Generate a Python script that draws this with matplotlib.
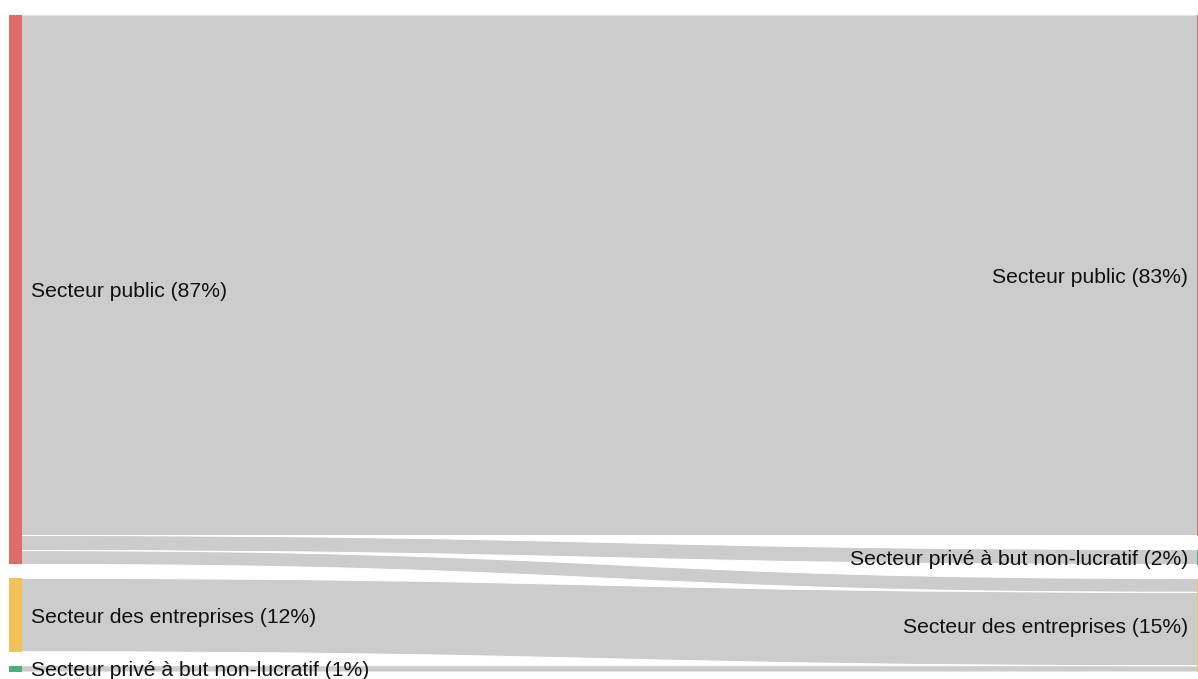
import matplotlib
matplotlib.use("Agg")
import matplotlib.pyplot as plt
from matplotlib.path import Path
from matplotlib.patches import PathPatch, Rectangle

plt.rcParams['font.family'] = ['Liberation Sans', 'DejaVu Sans']

# ---- data ----
left_nodes = ["Secteur public", "Secteur des entreprises", "Secteur privé à but non-lucratif"]
left_pct = ["87%", "12%", "1%"]
right_nodes = ["Secteur public", "Secteur privé à but non-lucratif", "Secteur des entreprises"]
right_pct = ["83%", "2%", "15%"]
node_colors = {"Secteur public": "#E06C68",
               "Secteur des entreprises": "#F4C157",
               "Secteur privé à but non-lucratif": "#4DAE7E"}
# flows: (source index in left, target index in right, value)
flow_src = [0, 0, 0, 1, 2]
flow_tgt = [0, 1, 2, 2, 2]
flow_val = [83.0, 2.4, 2.2, 11.7, 1.0]

# ---- layout (pixel space) ----
W, H = 1198, 679
top, bottom = 15, 672
pad = 14
node_w = 13
xl = 9
xr = 1197
label_dy = 2

fig = plt.figure(figsize=(W / 100, H / 100), dpi=100)
ax = fig.add_axes([0, 0, 1, 1])
ax.set_xlim(0, W)
ax.set_ylim(H, 0)
ax.axis('off')

left_tot = [sum(v for s, v in zip(flow_src, flow_val) if s == i) for i in range(len(left_nodes))]
right_tot = [sum(v for t, v in zip(flow_tgt, flow_val) if t == i) for i in range(len(right_nodes))]
k = (bottom - top - pad * (len(left_nodes) - 1)) / sum(left_tot)

def stack(tots):
    ys, y = [], top
    for t in tots:
        ys.append(y)
        y += t * k + pad
    return ys

ly = stack(left_tot)
ry = stack(right_tot)

# link offsets
lofs = list(ly)
rofs = list(ry)
order = sorted(range(len(flow_val)), key=lambda i: (flow_src[i], flow_tgt[i]))
src_pos = {}
for i in order:
    s = flow_src[i]
    src_pos[i] = lofs[s]
    lofs[s] += flow_val[i] * k
order_t = sorted(range(len(flow_val)), key=lambda i: (flow_tgt[i], flow_src[i]))
tgt_pos = {}
for i in order_t:
    t = flow_tgt[i]
    tgt_pos[i] = rofs[t]
    rofs[t] += flow_val[i] * k

x0 = xl + node_w
x1 = xr
xm = (x0 + x1) / 2
curve_codes = [Path.MOVETO, Path.CURVE4, Path.CURVE4, Path.CURVE4]
for i in range(len(flow_val)):
    h = flow_val[i] * k
    a, b = src_pos[i], tgt_pos[i]
    verts = [(x0, a), (xm, a), (xm, b), (x1, b),
             (x1, b + h), (xm, b + h), (xm, a + h), (x0, a + h), (x0, a)]
    codes = [Path.MOVETO, Path.CURVE4, Path.CURVE4, Path.CURVE4,
             Path.LINETO, Path.CURVE4, Path.CURVE4, Path.CURVE4, Path.CLOSEPOLY]
    ax.add_patch(PathPatch(Path(verts, codes), facecolor="#CCCCCC",
                           edgecolor="none", zorder=1))
    for yy0, yy1 in ((a, b), (a + h, b + h)):
        ax.add_patch(PathPatch(Path([(x0, yy0), (xm, yy0), (xm, yy1), (x1, yy1)], curve_codes),
                               facecolor="none", edgecolor="white", linewidth=0.7, zorder=1.5))

for i, name in enumerate(left_nodes):
    h = left_tot[i] * k
    ax.add_patch(Rectangle((xl, ly[i]), node_w, h, facecolor=node_colors[name],
                           edgecolor="none", zorder=2))
    ax.text(x0 + 9, ly[i] + h / 2 + label_dy, f"{name} ({left_pct[i]})", ha="left", va="center",
            fontsize=15.2, color="#111111", zorder=3)

for i, name in enumerate(right_nodes):
    h = right_tot[i] * k
    ax.add_patch(Rectangle((xr, ry[i]), node_w, h, facecolor=node_colors[name],
                           edgecolor="none", zorder=2))
    ax.text(xr - 9, ry[i] + h / 2 + label_dy, f"{name} ({right_pct[i]})", ha="right", va="center",
            fontsize=15.2, color="#111111", zorder=3)

fig.savefig("out.png", dpi=100)
